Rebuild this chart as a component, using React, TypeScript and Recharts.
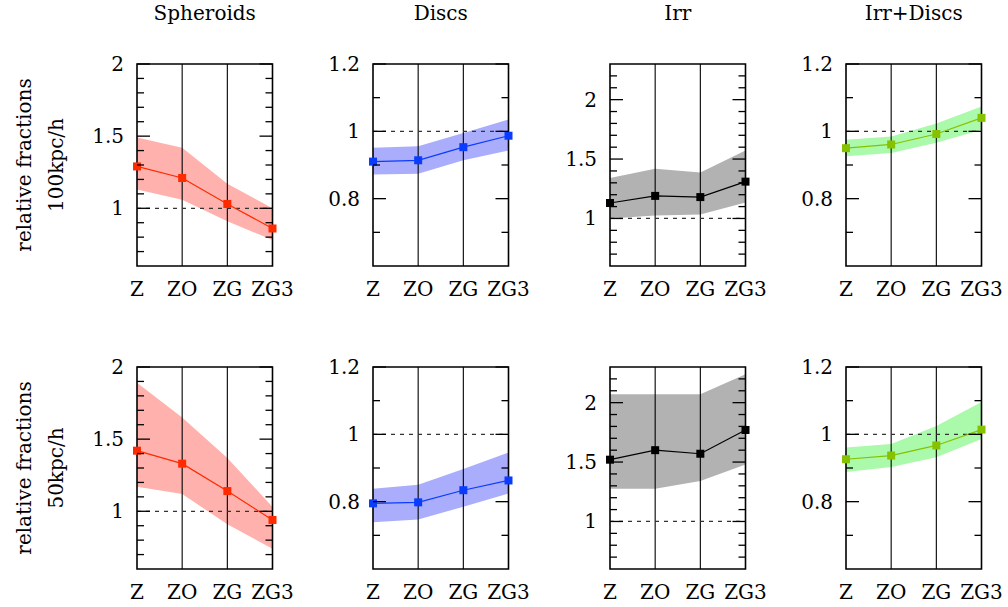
import React from 'react';
import { ComposedChart, Area, Line, XAxis, YAxis, ReferenceLine, ReferenceArea } from 'recharts';

// ---------- categories & labels ----------
const categories = ['Z', 'ZO', 'ZG', 'ZG3'];
const columnTitles = ['Spheroids', 'Discs', 'Irr', 'Irr+Discs'];
const rowLabels = ['100kpc/h', '50kpc/h'];
const rowAxisTitle = 'relative fractions';

// ---------- values: 100kpc/h row ----------
const sph100Mid = [1.29, 1.21, 1.03, 0.86];
const sph100Lo = [1.13, 1.06, 0.91, 0.78];
const sph100Hi = [1.49, 1.42, 1.17, 1.0];

const disc100Mid = [0.91, 0.914, 0.953, 0.987];
const disc100Lo = [0.872, 0.874, 0.914, 0.943];
const disc100Hi = [0.951, 0.956, 0.995, 1.035];

const irr100Mid = [1.13, 1.19, 1.18, 1.31];
const irr100Lo = [1.0, 1.025, 1.034, 1.135];
const irr100Hi = [1.34, 1.418, 1.387, 1.572];

const irrd100Mid = [0.95, 0.961, 0.992, 1.04];
const irrd100Lo = [0.926, 0.936, 0.966, 1.005];
const irrd100Hi = [0.975, 0.985, 1.023, 1.074];

// ---------- values: 50kpc/h row ----------
const sph50Mid = [1.42, 1.33, 1.14, 0.94];
const sph50Lo = [1.17, 1.12, 0.91, 0.74];
const sph50Hi = [1.89, 1.65, 1.37, 1.03];

const disc50Mid = [0.795, 0.798, 0.834, 0.863];
const disc50Lo = [0.739, 0.747, 0.785, 0.824];
const disc50Hi = [0.838, 0.85, 0.897, 0.946];

const irr50Mid = [1.52, 1.6, 1.57, 1.77];
const irr50Lo = [1.276, 1.276, 1.34, 1.48];
const irr50Hi = [2.07, 2.07, 2.07, 2.24];

const irrd50Mid = [0.926, 0.937, 0.967, 1.014];
const irrd50Lo = [0.888, 0.903, 0.932, 0.986];
const irrd50Hi = [0.961, 0.971, 1.025, 1.096];

// ---------- y axes ----------
const sphDomain = [0.6, 2];
const sphMajor = [1, 1.5, 2];
const sphMinor = [0.7, 0.8, 0.9, 1.1, 1.2, 1.3, 1.4, 1.6, 1.7, 1.8, 1.9];

const discDomain = [0.6, 1.2];
const discMajor = [0.8, 1, 1.2];
const discMinor = [0.7, 0.9, 1.1];

const irrDomain = [0.6, 2.3];
const irrMajor = [1, 1.5, 2];
const irrMinor = [0.7, 0.8, 0.9, 1.1, 1.2, 1.3, 1.4, 1.6, 1.7, 1.8, 1.9, 2.1, 2.2];

const referenceValue = 1;

// ---------- colours ----------
const colours = [
  { band: '#ffb2ad', line: '#ff2a00' },
  { band: '#a9adfb', line: '#0a3cff' },
  { band: '#b2b2b2', line: '#000000' },
  { band: '#abf9ab', line: '#86c200' },
];

const FONT = '"DejaVu Serif", "Liberation Serif", serif';
const textStyle = { fontFamily: FONT, fontSize: 20, fill: '#000' } as const;

const build = (mid: number[], lo: number[], hi: number[]) =>
  categories.map((c, i) => ({ cat: c, mid: mid[i], band: [lo[i], hi[i]] }));

const axisSets = [
  { domain: sphDomain, major: sphMajor, minor: sphMinor },
  { domain: discDomain, major: discMajor, minor: discMinor },
  { domain: irrDomain, major: irrMajor, minor: irrMinor },
  { domain: discDomain, major: discMajor, minor: discMinor },
];

const rows = [
  [
    build(sph100Mid, sph100Lo, sph100Hi),
    build(disc100Mid, disc100Lo, disc100Hi),
    build(irr100Mid, irr100Lo, irr100Hi),
    build(irrd100Mid, irrd100Lo, irrd100Hi),
  ],
  [
    build(sph50Mid, sph50Lo, sph50Hi),
    build(disc50Mid, disc50Lo, disc50Hi),
    build(irr50Mid, irr50Lo, irr50Hi),
    build(irrd50Mid, irrd50Lo, irrd50Hi),
  ],
];

// ---------- layout ----------
const plotLefts = [137, 373, 610, 846];
const plotTops = [64, 367];
const PW = 135.5;
const PH = 202;
const ML = 60;
const MR = 30;
const MT = 20;
const MB = 40;
const AX = 1; // axis band size (must be > 0 for Recharts to draw the axis)

const isMajor = (majors: number[], v: number) => majors.some((m) => Math.abs(m - v) < 1e-6);

const Square = (props: any) => {
  const { cx, cy, fill } = props;
  if (cx == null || cy == null) return null;
  return <rect x={cx - 4} y={cy - 4} width={8} height={8} fill={fill} />;
};

function Panel({ data, axis, colour }: any) {
  const ticks = [...axis.minor, ...axis.major].sort((a: number, b: number) => a - b);
  const leftTick = (p: any) => {
    const v = p.payload.value;
    const maj = isMajor(axis.major, v);
    return (
      <g>
        <line x1={p.x} x2={p.x + (maj ? 13 : 7)} y1={p.y} y2={p.y} stroke="#000" strokeWidth={1.3} />
        {maj && (
          <text x={p.x - 13} y={p.y + 7} textAnchor="end" style={textStyle}>
            {String(v)}
          </text>
        )}
      </g>
    );
  };
  const rightTick = (p: any) => {
    const v = p.payload.value;
    const maj = isMajor(axis.major, v);
    return <line x1={p.x} x2={p.x - (maj ? 13 : 7)} y1={p.y} y2={p.y} stroke="#000" strokeWidth={1.3} />;
  };
  const xTick = (p: any) => (
    <text x={p.x} y={p.y + 30} textAnchor="middle" style={textStyle}>
      {p.payload.value}
    </text>
  );
  return (
    <ComposedChart
      width={ML + PW + MR}
      height={MT + PH + MB}
      data={data}
      margin={{ top: MT, right: MR - AX, bottom: MB - AX, left: ML - AX }}
    >
      <XAxis
        dataKey="cat"
        type="category"
        height={AX}
        tickSize={0}
        tickMargin={0}
        axisLine={false}
        tickLine={false}
        interval={0}
        tick={xTick}
      />
      <YAxis
        yAxisId="l"
        type="number"
        domain={axis.domain}
        ticks={ticks}
        width={AX}
        tickSize={0}
        tickMargin={0}
        axisLine={false}
        tickLine={false}
        interval={0}
        allowDataOverflow
        tick={leftTick}
      />
      <YAxis
        yAxisId="r"
        orientation="right"
        type="number"
        domain={axis.domain}
        ticks={ticks}
        width={AX}
        tickSize={0}
        tickMargin={0}
        axisLine={false}
        tickLine={false}
        interval={0}
        allowDataOverflow
        tick={rightTick}
      />
      <Area
        yAxisId="l"
        type="linear"
        dataKey="band"
        stroke="none"
        fill={colour.band}
        fillOpacity={1}
        isAnimationActive={false}
        dot={false}
        activeDot={false}
      />
      <ReferenceLine yAxisId="l" x="ZO" stroke="#000" strokeWidth={1.1} />
      <ReferenceLine yAxisId="l" x="ZG" stroke="#000" strokeWidth={1.1} />
      <ReferenceLine yAxisId="l" y={referenceValue} stroke="#333" strokeWidth={1.2} strokeDasharray="4 5" />
      <Line
        yAxisId="l"
        type="linear"
        dataKey="mid"
        stroke={colour.line}
        strokeWidth={1.2}
        dot={<Square fill={colour.line} />}
        activeDot={false}
        isAnimationActive={false}
      />
      <ReferenceArea
        yAxisId="l"
        y1={axis.domain[0]}
        y2={axis.domain[1]}
        fill="none"
        fillOpacity={0}
        stroke="#000"
        strokeWidth={1.6}
      />
    </ComposedChart>
  );
}

export default function App() {
  return (
    <div style={{ position: 'absolute', left: 0, top: 0, width: 1008, height: 607, background: '#fff', overflow: 'hidden' }}>
      {rows.map((row, r) =>
        row.map((data, c) => (
          <div
            key={`${r}-${c}`}
            style={{ position: 'absolute', left: plotLefts[c] - ML, top: plotTops[r] - MT }}
          >
            <Panel data={data} axis={axisSets[c]} colour={colours[c]} />
          </div>
        ))
      )}
      <svg
        width={1008}
        height={607}
        style={{ position: 'absolute', left: 0, top: 0, pointerEvents: 'none' }}
      >
        {columnTitles.map((t, c) => (
          <text key={t} x={plotLefts[c] + PW / 2} y={20} textAnchor="middle" style={textStyle}>
            {t}
          </text>
        ))}
        {rowLabels.map((t, r) => {
          const cy = plotTops[r] + PH / 2;
          return (
            <g key={t}>
              <text transform={`translate(31,${cy}) rotate(-90)`} textAnchor="middle" style={textStyle}>
                {rowAxisTitle}
              </text>
              <text transform={`translate(63,${cy}) rotate(-90)`} textAnchor="middle" style={textStyle}>
                {t}
              </text>
            </g>
          );
        })}
      </svg>
    </div>
  );
}
